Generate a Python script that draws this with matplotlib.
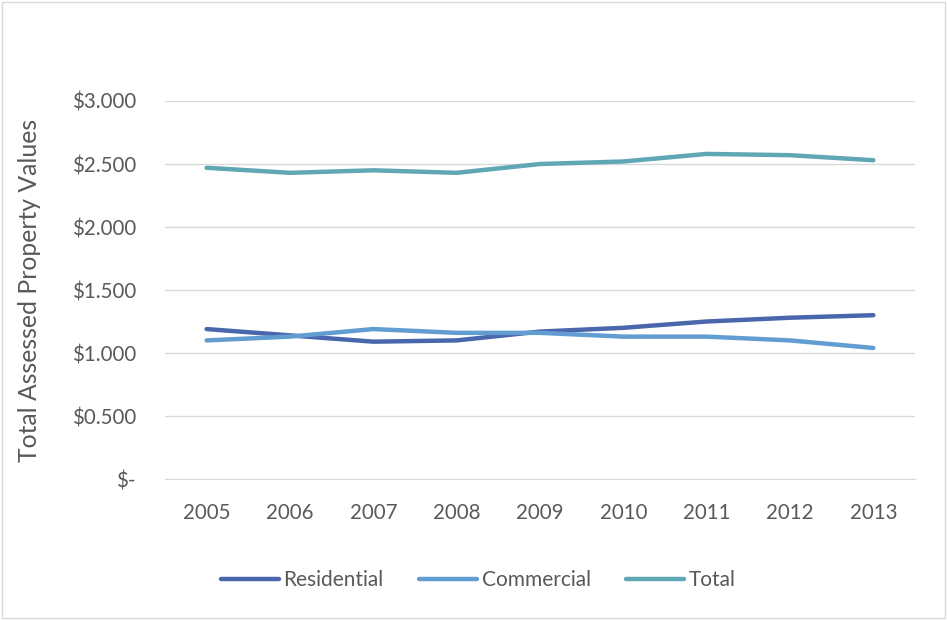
import matplotlib
matplotlib.use('Agg')
import matplotlib.pyplot as plt
from matplotlib.patches import Rectangle

years = ['2005', '2006', '2007', '2008', '2009', '2010', '2011', '2012', '2013']
residential = [1.19, 1.14, 1.09, 1.10, 1.17, 1.20, 1.25, 1.28, 1.30]
commercial = [1.10, 1.13, 1.19, 1.16, 1.16, 1.13, 1.13, 1.10, 1.04]
total = [2.47, 2.43, 2.45, 2.43, 2.50, 2.52, 2.58, 2.57, 2.53]
y_ticks = [0, 0.5, 1.0, 1.5, 2.0, 2.5, 3.0]
y_labels = ['$-', '$0.500', '$1.000', '$1.500', '$2.000', '$2.500', '$3.000']

plt.rcParams['font.family'] = ['Lato', 'DejaVu Sans']
text_col = '#595959'

fig = plt.figure(figsize=(9.47, 6.2), dpi=100)
fig.patches.append(Rectangle((0.002, 0.003), 0.996, 0.994, transform=fig.transFigure,
                             fill=False, edgecolor='#D9D9D9', linewidth=1))
ax = fig.add_axes([0.1742, 0.2274, 0.792, 0.6097])

x = list(range(len(years)))
ax.plot(x, residential, color='#4A66AC', lw=3.2, label='Residential', solid_capstyle='round')
ax.plot(x, commercial, color='#629DD1', lw=3.2, label='Commercial', solid_capstyle='round')
ax.plot(x, total, color='#5FA7B5', lw=3.2, label='Total', solid_capstyle='round')

ax.set_xlim(-0.5, len(years) - 0.5)
ax.set_ylim(0, 3.0)
ax.set_xticks(x)
ax.set_xticklabels(years)
ax.set_yticks(y_ticks)
ax.set_yticklabels(y_labels)
ax.grid(axis='y', color='#D9D9D9', lw=1)
ax.set_axisbelow(True)
for s in ['top', 'right', 'left']:
    ax.spines[s].set_visible(False)
ax.spines['bottom'].set_color('#D9D9D9')
ax.tick_params(length=0, labelsize=14.8, colors=text_col)
ax.tick_params(axis='y', pad=21)
ax.tick_params(axis='x', pad=17)
ax.set_ylabel('Total Assessed Property Values', fontsize=17.8, color=text_col, labelpad=22)

fig.legend(*ax.get_legend_handles_labels(), loc='center', bbox_to_anchor=(0.505, 1 - 580 / 620),
           ncol=3, frameon=False, fontsize=15, labelcolor=text_col, handlelength=2.8,
           handletextpad=0.2, columnspacing=1.7)

fig.savefig('out.png', dpi=100)
